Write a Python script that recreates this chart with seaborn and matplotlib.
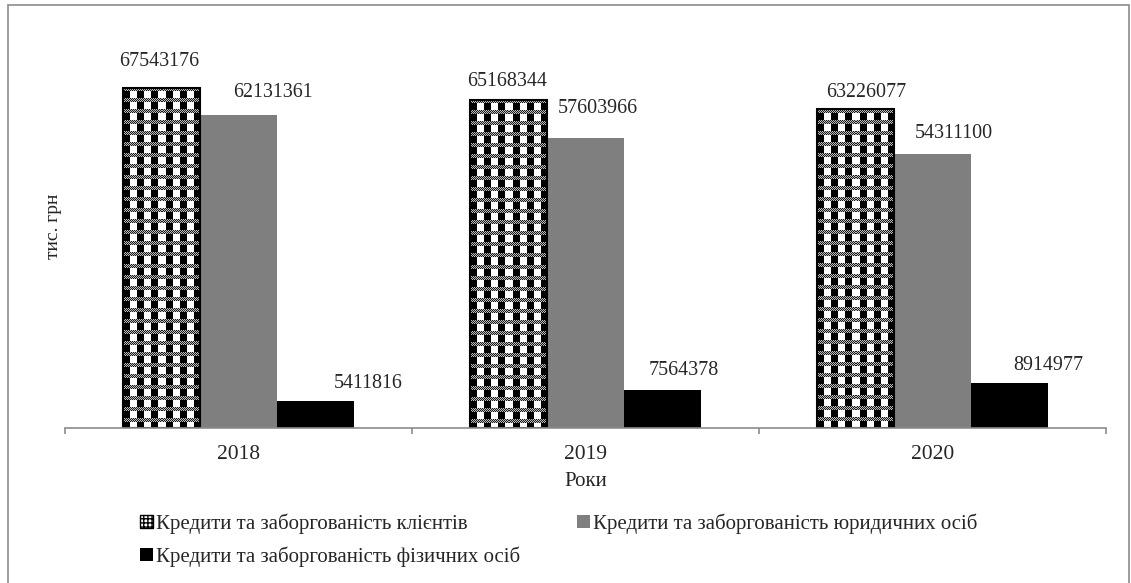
import numpy as np
import pandas as pd
import matplotlib
matplotlib.use("Agg")
import matplotlib.pyplot as plt
from matplotlib.patches import Patch, Rectangle
import seaborn as sns

# --- data (тис. грн) ---
years = ["2018", "2019", "2020"]
series_names = [
    "Кредити та заборгованість клієнтів",
    "Кредити та заборгованість юридичних осіб",
    "Кредити та заборгованість фізичних осіб",
]
clients = [67543176, 65168344, 63226077]
legal_entities = [62131361, 57603966, 54311100]
individuals = [5411816, 7564378, 8914977]

# label placement tweaks, in pixels: (dx from bar centre, dy above bar top)
label_dx = [[-2, -1, 11], [34, 12, 21], [53, 21, 39]]
label_dy = [[26, 18, 17], [23, 29, 21], [17, 19, 18]]

df = pd.DataFrame({
    "year": years * 3,
    "series": [series_names[0]] * 3 + [series_names[1]] * 3 + [series_names[2]] * 3,
    "value": clients + legal_entities + individuals,
})

sns.set_theme(style="white")
plt.rcParams["font.family"] = ["Liberation Serif", "DejaVu Serif"]
text_color = "#262626"

W, H = 1131, 583
fig = plt.figure(figsize=(W / 100, H / 100), dpi=100)
ax = fig.add_axes([65 / W, 155 / H, (1106 - 65) / W, 403 / H])

palette = ["white", "#7f7f7f", "black"]
sns.barplot(data=df, x="year", y="value", hue="series", hue_order=series_names,
            palette=palette, width=0.666, gap=0, dodge=True, ax=ax,
            legend=False, edgecolor="none", linewidth=0, saturation=1)

ax.set_xlim(-0.5, 2.5)
ax.set_ylim(0, 80_000_000)

# woven checker texture for the first series
def checker(h_px, w_px):
    img = np.ones((h_px, w_px, 3))
    rr, cc = np.mgrid[0:h_px, 0:w_px]
    row_phase = rr % 11
    col_phase = cc % 14
    black = (col_phase < 7) & (row_phase >= 4)
    img[black] = 0.0
    band = row_phase < 4
    dots = band & ((rr + cc) % 2 == 0)
    img[band] = 0.75
    img[dots] = 0.1
    return img

for patch in ax.containers[0]:
    x0, w, h = patch.get_x(), patch.get_width(), patch.get_height()
    p0 = ax.transData.transform((x0, 0))
    p1 = ax.transData.transform((x0 + w, h))
    w_px = max(int(round(p1[0] - p0[0])), 1)
    h_px = max(int(round(p1[1] - p0[1])), 1)
    ax.imshow(checker(h_px, w_px), extent=[x0, x0 + w, 0, h], aspect="auto",
              interpolation="nearest", zorder=2.5)
    ax.add_patch(Rectangle((x0, 0), w, h, fill=False, ec="black", lw=1.5, zorder=3))

ax.set_xlim(-0.5, 2.5)
ax.set_ylim(0, 80_000_000)

# value labels
for si, cont in enumerate(ax.containers[:3]):
    for yi, patch in enumerate(cont):
        val = patch.get_height()
        cx = patch.get_x() + patch.get_width() / 2
        ax.annotate(f"{int(round(val))}", (cx, val),
                    xytext=(label_dx[si][yi], label_dy[si][yi]),
                    textcoords="offset pixels", ha="center", va="center",
                    fontsize=14.4, color=text_color, zorder=5)

# axes styling
for s in ["top", "right", "left"]:
    ax.spines[s].set_visible(False)
ax.spines["bottom"].set_color("#8c8c8c")
ax.spines["bottom"].set_linewidth(1.2)
ax.spines["bottom"].set_zorder(4)
ax.set_yticks([])
ax.set_xticks([0, 1, 2])
ax.set_xticklabels(years)
ax.set_xticks([-0.5, 0.5, 1.5, 2.5], minor=True)
ax.tick_params(axis="x", which="major", length=0, pad=12, labelsize=15.5,
               labelcolor=text_color)
ax.tick_params(axis="x", which="minor", length=4, width=1.2, color="#8c8c8c",
               direction="out", bottom=True)

ax.set_xlabel("Роки", fontsize=15, color=text_color)
ax.xaxis.set_label_coords(0.5, (101 - 155) / 403)
ax.xaxis.label.set_va("center")
ax.set_ylabel("тис. грн", fontsize=14, color=text_color)
ax.yaxis.set_label_coords((53 - 65) / 1041, 0.5)
ax.yaxis.label.set_va("center")

# legend, laid out row by row
handles = [
    Patch(facecolor="white", edgecolor="black", hatch="++++", lw=1),
    Patch(facecolor="#7f7f7f", edgecolor="none"),
    Patch(facecolor="black", edgecolor="none"),
]
order = [0, 2, 1]
leg_fs = 15.0

def make_legend(colspacing):
    return fig.legend([handles[i] for i in order], [series_names[i] for i in order],
                      ncol=2, loc="upper left", bbox_to_anchor=(140 / W, 1 - 513 / H),
                      frameon=False, borderpad=0, borderaxespad=0,
                      handlelength=0.6, handleheight=0.6, handletextpad=0.15,
                      labelspacing=0.62, columnspacing=colspacing,
                      prop={"size": leg_fs}, labelcolor=text_color)

leg = make_legend(2.0)
fig.canvas.draw()
renderer = fig.canvas.get_renderer()
col1_right = max(t.get_window_extent(renderer).x1 for t in leg.get_texts()[:2])
fs_px = leg_fs * 100 / 72
needed = (577 - col1_right) / fs_px
leg.remove()
leg = make_legend(needed)

# outer frame
fig.add_artist(Rectangle((8 / W, -0.02), (1129 - 8) / W, 1.02 - 5 / H,
                         transform=fig.transFigure, fill=False,
                         ec="#8c8c8c", lw=1.2))

fig.savefig("out.png", dpi=100)
